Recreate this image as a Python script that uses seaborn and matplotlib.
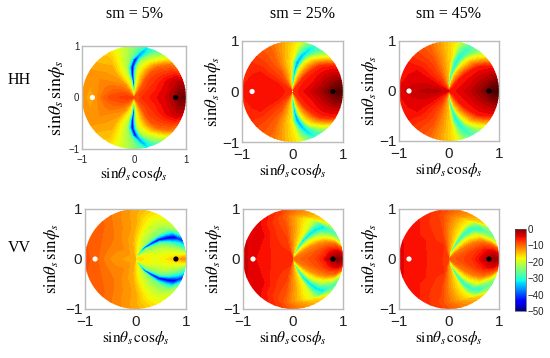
import numpy as np
import pandas as pd
import matplotlib
matplotlib.use("Agg")
import matplotlib.pyplot as plt
from matplotlib.colors import ListedColormap, Normalize
from matplotlib.cm import ScalarMappable
from matplotlib.patches import Circle
import seaborn as sns

# radius of each table column
radii = [0.02, 0.15, 0.3, 0.45, 0.6, 0.75, 0.9, 1.12]

# angle (deg) of the null at each radius, its half width, and dB at the angle knots
hh5_notch = [90, 90, 92, 94, 93, 88, 80, 72]
hh5_width = [6, 6, 5, 5, 5, 5, 6, 9]
hh5_db = [[-10, -7, -6, -5, -4, -2, 1, 2],
          [-9, -7.5, -7, -6.5, -5.5, -4.5, -3.5, -4],
          [-10, -9.5, -9, -8.5, -9, -10, -11, -12],
          [-16, -17, -19, -20, -21, -23, -25, -26],
          [-22, -26, -30, -32, -33, -33, -31, -29],
          [-30, -40, -47, -48, -48, -46, -36, -30],
          [-22, -26, -30, -32, -32, -30, -28, -27],
          [-17, -18, -20, -21, -22, -23, -24, -24],
          [-11, -11, -12, -13, -13.5, -14, -15, -16],
          [-8.5, -8.5, -9.5, -10.5, -11.5, -12, -12.5, -13],
          [-7.5, -7.5, -8, -8.5, -10, -13, -13.5, -10]]

hh25_notch = [90, 88, 85, 83, 80, 75, 69, 60]
hh25_width = [6, 6, 5, 5, 6, 6, 8, 10]
hh25_db = [[-7, -5.5, -4.5, -3, -1.5, 0.5, 3, 4],
           [-7, -6, -5.5, -5, -4, -3, -2, -1.5],
           [-7.5, -7, -6.5, -6.5, -6.5, -6.5, -6.5, -6.5],
           [-16, -16, -17, -18, -18, -20, -21, -21],
           [-24, -26, -27, -28, -30, -30, -29, -27],
           [-28, -34, -37, -38, -38, -36, -33, -28],
           [-22, -26, -27, -28, -29, -28, -26, -24],
           [-15, -16, -17, -17, -17.5, -18, -18, -18],
           [-8.5, -8.5, -9, -9, -9.5, -10, -10, -10.5],
           [-6.5, -6, -6, -6, -6, -6, -6.5, -7],
           [-6, -6, -5.5, -5.5, -5, -5, -5, -6.5]]

hh45_notch = [89, 87, 83, 79, 76, 72, 67, 60]
hh45_width = [6, 6, 5, 5, 6, 6, 8, 10]
hh45_db = [[-6, -5, -4, -3, -1.5, 0.5, 3.5, 5],
           [-6, -5.5, -5, -4.5, -3.5, -3, -2, -1],
           [-7, -6.5, -6, -6, -6, -6, -6, -6],
           [-15, -15, -16, -17, -18, -19, -19, -19],
           [-22, -24, -25, -26, -27, -27, -26, -25],
           [-26, -32, -33, -33, -33, -32, -30, -27],
           [-20, -24, -25, -25, -26, -26, -25, -23],
           [-13, -14, -15, -15.5, -16, -17, -17.5, -17.5],
           [-7.5, -7.5, -8, -8.5, -8.5, -9, -9.5, -10],
           [-5.5, -5, -5, -5, -5, -5, -5.5, -6],
           [-3.5, -3, -2.5, -2.5, -3, -3.5, -4, -5.5]]

vv5_notch = [60, 57, 51, 44, 40, 34, 29, 17]
vv5_width = [7, 6, 5, 5, 5, 6, 7, 6]
vv5_db = [[-16, -17, -18, -18, -17, -15.5, -13, -11],
          [-16, -17, -18, -19, -18.5, -18, -17, -14],
          [-18, -19, -21, -21, -21, -21, -21, -17],
          [-20, -24, -24, -25, -25, -25, -26, -25],
          [-27, -32, -33, -33, -33, -33, -33, -32],
          [-35, -46, -48, -48, -48, -47, -46, -40],
          [-25, -30, -33, -34, -34, -34, -33, -30],
          [-17, -19, -22, -24, -25, -25, -24, -23],
          [-14, -14, -14, -14, -13.5, -13.5, -14, -14.5],
          [-13, -13, -12, -11.5, -11, -10.5, -10, -10],
          [-14, -14, -13, -12.5, -11.5, -10, -9, -8.5]]

vv25_notch = [75, 70, 64, 60, 56, 52, 46, 22]
vv25_width = [6, 6, 5, 5, 5, 6, 8, 7]
vv25_db = [[-10, -10, -9, -8, -6, -2, 0, -3],
           [-10, -10, -10, -9, -8, -6, -4, -5],
           [-13, -12, -12, -12, -12, -12, -11, -8],
           [-19, -19, -20, -20, -21, -22, -22, -16],
           [-23, -27, -28, -28, -28, -28, -28, -23],
           [-26, -33, -35, -35, -35, -34, -33, -27],
           [-21, -25, -27, -28, -28, -28, -27, -25],
           [-14, -15, -17, -18, -19, -20, -20, -19],
           [-7, -7, -8, -8, -8.5, -9, -9.5, -10],
           [-6.5, -6.5, -6.5, -6.5, -6, -5, -4.5, -4.5],
           [-6.5, -6.5, -6, -6, -5.5, -5, -4, -3.5]]

vv45_notch = [78, 73, 66, 62, 58, 53, 43, 22]
vv45_width = [6, 6, 5, 5, 5, 6, 8, 7]
vv45_db = [[-9, -9, -8, -7, -5, -2.5, -1, -4],
           [-9, -9, -9, -8, -7, -5.5, -4, -5],
           [-12, -11, -11, -11, -11, -11, -10, -8],
           [-18, -18, -19, -19, -20, -20, -20, -15],
           [-22, -25, -26, -26, -26, -26, -26, -22],
           [-24, -31, -33, -32, -32, -31, -30, -25],
           [-20, -24, -25, -25, -26, -26, -25, -24],
           [-13, -14, -16, -17, -18, -18, -18, -17],
           [-7, -7, -7, -7.5, -8, -8, -8.5, -9],
           [-7, -7, -6.5, -6.5, -6, -6, -5.5, -5.5],
           [-7, -7, -6.5, -6, -5.5, -5.5, -5, -4.5]]

dot_x = [-0.8, 0.8]
dot_y = [0, 0]
dot_kind = ["white", "black"]
col_titles = ["sm = 5%", "sm = 25%", "sm = 45%"]
row_titles = ["HH", "VV"]
axis_ticks = [-1, 0, 1]
bar_ticks = [0, -10, -20, -30, -40, -50]

W, H = 550, 358
sns.set_theme(style="white", font="Liberation Sans")
plt.rcParams["mathtext.fontset"] = "stix"

# panels go past 0 dB into near black around the black dot; the bar itself stops at plain jet
jet = plt.get_cmap("jet")(np.linspace(0, 1, 256))
tail = np.ones((31, 4))
tail[:, :3] = np.linspace(jet[-1, :3], [0.16, 0, 0], 31)
panel_cmap = ListedColormap(np.vstack([jet, tail]))
panel_norm = Normalize(-50, 6)
bar_cmap = ListedColormap(jet)
bar_norm = Normalize(-50, 0)
levels = np.arange(-50, 6.5, 1)


def mesh(notch, width, db):
    n = np.array(notch, dtype=float)
    w = np.array(width, dtype=float)
    left = n - 2 * w
    right = n + 2 * w
    ang = np.array([0 * n, left * 0.33, left * 0.66, left, n - w, n, n + w, right,
                    right + (180 - right) * 0.33, right + (180 - right) * 0.66, 0 * n + 180]).T
    vals = np.array(db, dtype=float).T
    # lower half is the mirror of the upper one
    ang = np.hstack([ang, 360 - ang[:, -2::-1]])
    vals = np.hstack([vals, vals[:, -2::-1]])
    r = np.array(radii)[:, None]
    return r * np.cos(np.radians(ang)), r * np.sin(np.radians(ang)), vals


fig = plt.figure(figsize=(W / 100, H / 100), dpi=100)


def add_panel(box, notch, width, db, tick_size, xpad, ypad, ylab_size=12):
    x0, y0, x1, y1 = box
    ax = fig.add_axes([x0 / W, 1 - y1 / H, (x1 - x0) / W, (y1 - y0) / H])
    X, Y, Z = mesh(notch, width, db)
    cs = ax.contourf(X, Y, Z, levels=levels, cmap=panel_cmap, norm=panel_norm, extend="both")
    cs.set_clip_path(Circle((0, 0), 1, transform=ax.transData))
    dots = pd.DataFrame({"x": dot_x, "y": dot_y, "kind": dot_kind})
    sns.scatterplot(data=dots, x="x", y="y", hue="kind", palette={"white": "white", "black": "black"},
                    s=14, linewidth=0, legend=False, ax=ax, zorder=5)
    ax.set_xlim(-1, 1)
    ax.set_ylim(-1, 1)
    ax.set_xticks(axis_ticks)
    ax.set_yticks(axis_ticks)
    ax.tick_params(axis="x", length=0, labelsize=tick_size, pad=4, colors="#222222")
    ax.tick_params(axis="y", length=0, labelsize=tick_size, pad=2, colors="#222222")
    for s in ax.spines.values():
        s.set_color("#bbbbbb")
        s.set_linewidth(1)
    ax.set_xlabel(r"$\mathrm{sin}\theta_s\,\mathrm{cos}\phi_s$", fontsize=11, labelpad=xpad, color="black")
    ax.set_ylabel(r"$\mathrm{sin}\theta_s\,\mathrm{sin}\phi_s$", fontsize=ylab_size, labelpad=ypad, color="black")
    return ax


add_panel((82, 46, 186, 149), hh5_notch, hh5_width, hh5_db, 7, 0, 1, ylab_size=13)
add_panel((242, 41, 343, 142), hh25_notch, hh25_width, hh25_db, 11, 0, -1)
add_panel((399, 41, 499, 141), hh45_notch, hh45_width, hh45_db, 11, 0, -1)
add_panel((85, 209, 186, 309), vv5_notch, vv5_width, vv5_db, 11, 0, 2)
add_panel((243, 209, 343, 309), vv25_notch, vv25_width, vv25_db, 11, 0, -1)
add_panel((399, 209, 499, 309), vv45_notch, vv45_width, vv45_db, 11, 0, -1)

for x, t in zip([135, 303, 449], col_titles):
    fig.text(x / W, 1 - 14 / H, t, family="Liberation Serif", fontsize=11.5, ha="center", va="center", color="black")
for y, t in zip([80, 248], row_titles):
    fig.text(19 / W, 1 - y / H, t, family="Liberation Serif", fontsize=11.5, ha="center", va="center", color="black")

cax = fig.add_axes([515 / W, 1 - 311 / H, 11 / W, 82 / H])
cb = fig.colorbar(ScalarMappable(norm=bar_norm, cmap=bar_cmap), cax=cax)
cb.set_ticks(bar_ticks)
cb.ax.tick_params(length=0, labelsize=7, pad=1, colors="#222222")
cb.outline.set_linewidth(0.5)
cb.outline.set_edgecolor("#555555")

fig.savefig("out.png", dpi=100)
